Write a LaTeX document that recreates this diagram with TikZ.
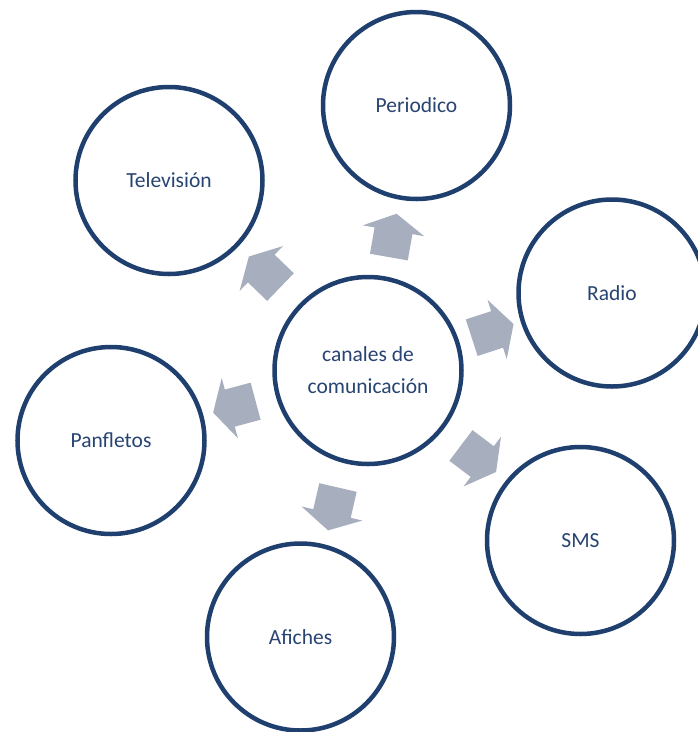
\documentclass[tikz,border=0pt]{standalone}
\usepackage{fontspec}
\setmainfont{Carlito}
\usepackage{tikz}
\usetikzlibrary{positioning,calc,shapes.arrows}

\definecolor{ringblue}{RGB}{31,63,111}
\definecolor{labelblue}{RGB}{40,68,114}
\definecolor{arrowgray}{RGB}{167,174,190}

\begin{document}
\begin{tikzpicture}[x=1pt, y=-1pt, font=\rmfamily]

% ---- Define Styles ----
\tikzset{
  channel/.style={
    circle, draw=ringblue, line width=4.5pt, fill=white,
    minimum size=187pt, inner sep=0pt, align=center,
    text=labelblue, font=\fontsize{21.5}{32}\selectfont
  },
  pusharrow/.style={
    single arrow, fill=arrowgray, draw=none,
    inner xsep=0pt, inner ysep=19pt, minimum height=44pt,
    single arrow head extend=12pt, single arrow tip angle=122
  }
}

% =========================================================
% PAGE (698 x 732)
% =========================================================
\clip (0,0) rectangle (698,732);
\useasboundingbox (0,0) rectangle (698,732);

% =========================================================
% CIRCLES: hub in the middle, six channels around it
% =========================================================
\node[channel] (hub) at (368,370.5) {canales de\\comunicación};

\node[channel] (per) at (416.5,105.5) {Periodico};
\node[channel] (tv)  at (169,180.5)   {Televisión};
\node[channel] (rad) at (612,293)     {Radio};
\node[channel] (sms) at (580.5,540.5) {SMS};
\node[channel] (afi) at (300.5,637)   {Afiches};
\node[channel] (pan) at (111,440.5)   {Panfletos};

% =========================================================
% BLOCK ARROWS: hub -> channels
% Each one sits about halfway between the two centres
% =========================================================
\node[pusharrow, rotate=80]   (toper) at ($(hub)!0.49!(per)$) {};
\node[pusharrow, rotate=136]  (totv)  at ($(hub)!0.5!(tv)$)  {};
\node[pusharrow, rotate=18]   (torad) at ($(hub)!0.49!(rad)$) {};
\node[pusharrow, rotate=-37]  (tosms) at ($(hub)!0.5!(sms)$) {};
\node[pusharrow, rotate=-103] (toafi) at ($(hub)!0.5!(afi)$) {};
\node[pusharrow, rotate=-165] (topan) at ($(hub)!0.5!(pan)$) {};

\end{tikzpicture}
\end{document}
